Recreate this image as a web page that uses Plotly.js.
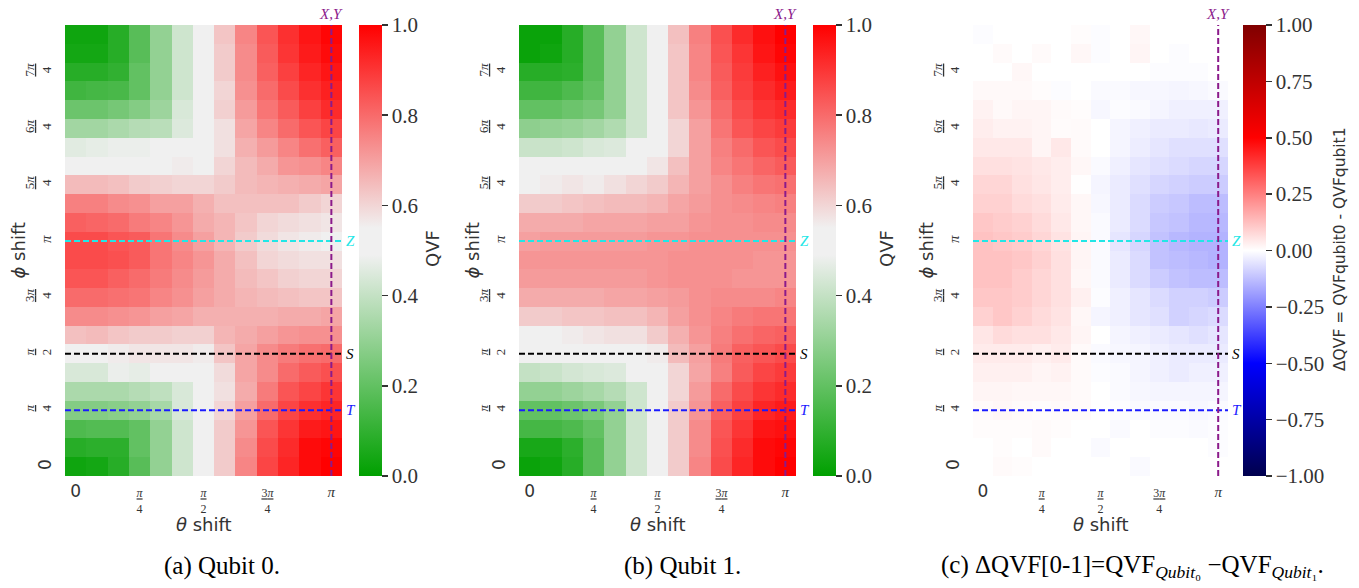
<!DOCTYPE html>
<html>
<head>
<meta charset="utf-8">
<script src="https://cdn.plot.ly/plotly-3.0.1.min.js"></script>
<style>html,body{margin:0;padding:0;background:#fff;}#chart{width:1359px;height:588px;}</style>
</head>
<body>
<div id="chart"></div>
<script>
// ---------------- DATA ----------------
// theta shift (x) and phi shift (y), in units of pi
const thetaPi = [0, 1/12, 2/12, 3/12, 4/12, 5/12, 6/12, 7/12, 8/12, 9/12, 10/12, 11/12, 12/12];
const phiPi = [0, 1/12, 2/12, 3/12, 4/12, 5/12, 6/12, 7/12, 8/12, 9/12, 10/12, 11/12,
               12/12, 13/12, 14/12, 15/12, 16/12, 17/12, 18/12, 19/12, 20/12, 21/12, 22/12, 23/12];

const xTickVals = [0, 0.25, 0.5, 0.75, 1];
const xTickText = ['0', 'π/4', 'π/2', '3π/4', 'π'];
const yTickVals = [0, 0.25, 0.5, 0.75, 1, 1.25, 1.5, 1.75];
const yTickText = ['0', 'π/4', 'π/2', '3π/4', 'π', '5π/4', '6π/4', '7π/4'];

// gate reference lines
const gateNames = ['Z', 'S', 'T'];
const gatePhi = [1, 0.5, 0.25];
const xyName = 'X,Y';
const xyTheta = 1;

// QVF for qubit 0, rows = phi (bottom -> top), columns = theta
const qvfQubit0 = [
  [0.03,0.04,0.08,0.18,0.30,0.42,0.52,0.62,0.75,0.87,0.93,0.98,1.00],
  [0.08,0.09,0.09,0.20,0.30,0.42,0.52,0.62,0.74,0.86,0.92,0.98,0.99],
  [0.16,0.17,0.17,0.20,0.30,0.42,0.52,0.62,0.72,0.84,0.90,0.95,0.96],
  [0.27,0.27,0.28,0.30,0.34,0.44,0.52,0.60,0.70,0.80,0.87,0.91,0.93],
  [0.35,0.35,0.35,0.37,0.39,0.44,0.52,0.58,0.68,0.77,0.84,0.87,0.90],
  [0.44,0.44,0.48,0.47,0.52,0.52,0.52,0.59,0.69,0.74,0.80,0.83,0.85],
  [0.55,0.55,0.56,0.57,0.57,0.57,0.56,0.63,0.69,0.74,0.77,0.79,0.80],
  [0.64,0.65,0.63,0.62,0.62,0.61,0.61,0.66,0.68,0.70,0.72,0.73,0.73],
  [0.74,0.74,0.73,0.72,0.70,0.69,0.67,0.67,0.67,0.67,0.68,0.68,0.69],
  [0.80,0.80,0.79,0.78,0.75,0.73,0.70,0.68,0.66,0.65,0.64,0.63,0.63],
  [0.84,0.84,0.82,0.80,0.77,0.74,0.71,0.68,0.65,0.63,0.61,0.60,0.60],
  [0.86,0.86,0.85,0.83,0.78,0.75,0.72,0.68,0.64,0.60,0.59,0.58,0.58],
  [0.86,0.86,0.84,0.83,0.78,0.74,0.70,0.66,0.62,0.59,0.57,0.56,0.55],
  [0.82,0.81,0.80,0.77,0.75,0.72,0.68,0.66,0.63,0.60,0.59,0.58,0.57],
  [0.76,0.76,0.74,0.73,0.70,0.70,0.67,0.64,0.64,0.64,0.64,0.62,0.60],
  [0.65,0.65,0.64,0.62,0.61,0.60,0.60,0.62,0.65,0.66,0.67,0.68,0.69],
  [0.52,0.52,0.54,0.54,0.54,0.56,0.55,0.60,0.65,0.68,0.72,0.73,0.75],
  [0.46,0.47,0.48,0.48,0.52,0.52,0.52,0.58,0.67,0.71,0.75,0.79,0.82],
  [0.33,0.33,0.35,0.37,0.38,0.45,0.52,0.58,0.69,0.75,0.80,0.84,0.87],
  [0.22,0.22,0.24,0.27,0.32,0.44,0.52,0.61,0.71,0.78,0.83,0.88,0.92],
  [0.13,0.14,0.15,0.20,0.30,0.42,0.52,0.60,0.73,0.80,0.86,0.91,0.94],
  [0.08,0.08,0.10,0.20,0.30,0.42,0.52,0.62,0.74,0.82,0.88,0.93,0.96],
  [0.04,0.04,0.08,0.18,0.30,0.42,0.52,0.62,0.74,0.83,0.90,0.95,0.98],
  [0.03,0.03,0.08,0.18,0.30,0.42,0.52,0.63,0.75,0.84,0.91,0.96,0.99]
];

// QVF for qubit 1
const qvfQubit1 = [
  [0.02,0.03,0.08,0.18,0.30,0.42,0.52,0.62,0.75,0.86,0.93,0.98,1.00],
  [0.05,0.05,0.09,0.18,0.30,0.42,0.52,0.62,0.74,0.85,0.92,0.98,0.99],
  [0.14,0.14,0.16,0.20,0.30,0.42,0.52,0.62,0.74,0.84,0.90,0.96,0.97],
  [0.20,0.20,0.22,0.25,0.30,0.42,0.52,0.62,0.72,0.82,0.88,0.93,0.95],
  [0.30,0.30,0.32,0.34,0.37,0.42,0.52,0.60,0.71,0.80,0.86,0.90,0.92],
  [0.40,0.41,0.43,0.44,0.45,0.52,0.52,0.60,0.69,0.76,0.83,0.87,0.89],
  [0.52,0.52,0.52,0.52,0.52,0.52,0.56,0.65,0.70,0.77,0.82,0.84,0.86],
  [0.55,0.55,0.56,0.57,0.58,0.58,0.62,0.67,0.72,0.76,0.79,0.81,0.82],
  [0.62,0.62,0.63,0.63,0.64,0.64,0.66,0.70,0.73,0.75,0.77,0.78,0.78],
  [0.68,0.68,0.68,0.68,0.69,0.69,0.70,0.71,0.73,0.74,0.74,0.74,0.75],
  [0.71,0.71,0.71,0.71,0.71,0.71,0.72,0.73,0.73,0.73,0.72,0.72,0.72],
  [0.72,0.72,0.72,0.72,0.72,0.72,0.72,0.73,0.73,0.73,0.73,0.72,0.72],
  [0.70,0.71,0.71,0.71,0.71,0.71,0.72,0.72,0.73,0.73,0.73,0.73,0.73],
  [0.68,0.68,0.68,0.69,0.69,0.69,0.70,0.70,0.72,0.73,0.73,0.74,0.74],
  [0.62,0.62,0.63,0.64,0.65,0.65,0.66,0.69,0.71,0.73,0.74,0.75,0.76],
  [0.55,0.56,0.57,0.56,0.58,0.60,0.62,0.66,0.70,0.73,0.76,0.78,0.79],
  [0.52,0.52,0.52,0.52,0.52,0.52,0.57,0.64,0.70,0.75,0.78,0.81,0.83],
  [0.41,0.41,0.42,0.44,0.45,0.52,0.52,0.60,0.70,0.76,0.80,0.84,0.86],
  [0.29,0.30,0.31,0.33,0.36,0.42,0.52,0.60,0.70,0.78,0.84,0.87,0.89],
  [0.20,0.20,0.22,0.24,0.30,0.42,0.52,0.63,0.72,0.80,0.86,0.90,0.92],
  [0.13,0.13,0.16,0.20,0.30,0.42,0.52,0.63,0.74,0.82,0.88,0.92,0.95],
  [0.08,0.08,0.09,0.18,0.30,0.42,0.52,0.63,0.75,0.83,0.89,0.94,0.97],
  [0.02,0.03,0.08,0.18,0.30,0.42,0.52,0.63,0.75,0.84,0.90,0.96,0.99],
  [0.02,0.02,0.08,0.18,0.30,0.42,0.52,0.64,0.76,0.85,0.92,0.97,1.00]
];

// Delta QVF = QVF qubit0 - QVF qubit1
const deltaQvf = [
  [0.000,0.010,0.005,0.000,0.000,0.000,0.000,0.000,-0.010,0.000,0.000,0.000,0.000],
  [0.000,0.005,0.000,0.010,0.000,0.000,-0.010,0.000,0.000,0.000,0.000,0.000,-0.005],
  [0.005,0.005,0.005,0.010,0.005,0.000,0.000,-0.010,0.000,-0.005,-0.005,-0.010,-0.005],
  [0.010,0.015,0.010,0.005,0.010,0.010,0.000,-0.005,-0.010,-0.010,-0.010,-0.015,-0.010],
  [0.020,0.020,0.015,0.015,0.015,0.010,0.000,-0.010,-0.015,-0.020,-0.020,-0.020,-0.020],
  [0.030,0.030,0.030,0.020,0.025,0.010,-0.005,-0.010,-0.020,-0.030,-0.040,-0.030,-0.030],
  [0.040,0.040,0.040,0.030,0.040,0.010,-0.010,-0.015,-0.020,-0.030,-0.040,-0.040,-0.040],
  [0.050,0.070,0.060,0.060,0.045,0.020,0.000,-0.020,-0.030,-0.040,-0.050,-0.060,-0.050],
  [0.090,0.110,0.090,0.070,0.055,0.015,-0.020,-0.030,-0.050,-0.060,-0.090,-0.080,-0.070],
  [0.110,0.110,0.100,0.080,0.060,0.030,-0.005,-0.030,-0.050,-0.070,-0.090,-0.090,-0.100],
  [0.120,0.120,0.100,0.080,0.060,0.015,-0.010,-0.040,-0.070,-0.100,-0.120,-0.130,-0.130],
  [0.120,0.120,0.110,0.090,0.060,0.020,-0.010,-0.040,-0.070,-0.120,-0.130,-0.140,-0.150],
  [0.120,0.110,0.100,0.080,0.055,0.020,-0.010,-0.050,-0.080,-0.120,-0.140,-0.150,-0.150],
  [0.110,0.100,0.090,0.070,0.045,0.015,-0.010,-0.040,-0.070,-0.110,-0.120,-0.140,-0.140],
  [0.090,0.090,0.070,0.060,0.040,0.015,-0.015,-0.040,-0.070,-0.100,-0.110,-0.130,-0.130],
  [0.080,0.080,0.060,0.050,0.035,0.002,-0.020,-0.040,-0.060,-0.080,-0.090,-0.100,-0.100],
  [0.060,0.060,0.055,0.045,0.035,0.015,-0.010,-0.030,-0.050,-0.060,-0.070,-0.080,-0.080],
  [0.045,0.045,0.045,0.020,0.045,0.010,0.000,-0.020,-0.035,-0.050,-0.060,-0.060,-0.060],
  [0.035,0.025,0.025,0.020,0.008,0.010,0.000,-0.020,-0.030,-0.040,-0.040,-0.045,-0.040],
  [0.025,0.012,0.020,0.020,0.010,0.005,-0.015,-0.005,-0.010,-0.020,-0.030,-0.030,-0.030],
  [0.012,0.012,0.012,0.005,-0.005,0.000,-0.010,-0.010,-0.015,-0.015,-0.020,-0.015,-0.010],
  [0.000,0.000,0.015,0.000,0.000,0.000,0.000,0.000,0.000,-0.005,-0.005,-0.005,0.000],
  [0.000,0.010,0.000,0.010,0.000,0.015,-0.005,0.000,0.020,0.000,-0.005,0.000,0.000],
  [-0.005,0.000,0.000,0.000,0.000,0.005,-0.005,0.000,0.015,0.000,0.000,0.000,0.000]
];

const cbarTitles = ['QVF', 'QVF', 'ΔQVF = QVFqubit0 - QVFqubit1'];
const captions = ['(a) Qubit 0.', '(b) Qubit 1.',
  '(c) ΔQVF[0-1]=QVF<sub><i>Qubit</i>₀</sub> −QVF<sub><i>Qubit</i>₁</sub>.'];

// ---------------- STYLE / LAYOUT ----------------
const W = 1359, H = 588;
const fx = v => v / W;
const fy = v => 1 - v / H;
const TXT = '#333333';
const SERIF = 'Liberation Serif, DejaVu Serif, serif';
const SANS = 'DejaVu Sans, sans-serif';
const gateColors = ['#22e6e6', '#000000', '#1a1aff'];
const xyColor = '#8b1a8b';

const qvfScale = [[0, 'rgb(0,160,0)'], [0.49, 'rgb(240,240,240)'], [0.55, 'rgb(240,240,240)'], [1, 'rgb(255,0,0)']];
const seismic = [[0, 'rgb(0,0,77)'], [0.25, 'rgb(0,0,255)'], [0.5, 'rgb(255,255,255)'], [0.75, 'rgb(255,0,0)'], [1, 'rgb(128,0,0)']];

const panels = [
  {x0: 65, x1: 342, cb: 359, z: qvfQubit0, cs: qvfScale, zmin: 0, zmax: 1, ticks: [0,0.2,0.4,0.6,0.8,1], fmt: '.1f', tx: 432, tsize: 18},
  {x0: 519, x1: 796, cb: 813, z: qvfQubit1, cs: qvfScale, zmin: 0, zmax: 1, ticks: [0,0.2,0.4,0.6,0.8,1], fmt: '.1f', tx: 886, tsize: 18},
  {x0: 973, x1: 1228, cb: 1243, z: deltaQvf, cs: seismic, zmin: -1, zmax: 1, ticks: [-1,-0.75,-0.5,-0.25,0,0.25,0.5,0.75,1], fmt: '.2f', tx: 1340, tsize: 15.5}
];
const captionX = [222, 682, 1132];
const plotTop = 25, plotBottom = 476;

function fracLabel(t) {
  if (t === '0') return '<span style="font-family:DejaVu Sans;font-size:17px">0</span>';
  if (t === 'π') return '<span style="font-size:15px"><i>π</i></span>';
  const parts = t.split('/');
  return '<u>' + parts[0].replace('π', '<i>π</i>') + '</u><br>' + parts[1];
}

const data = [];
const layout = {
  width: W, height: H,
  margin: {l: 0, r: 0, t: 0, b: 0},
  paper_bgcolor: '#fff', plot_bgcolor: '#fff',
  showlegend: false,
  shapes: [], annotations: []
};

const xr = [thetaPi[0] - 1/24, thetaPi[thetaPi.length - 1] + 1/24];
const yr = [phiPi[0] - 1/24, phiPi[phiPi.length - 1] + 1/24];

panels.forEach((p, i) => {
  const sfx = i === 0 ? '' : String(i + 1);
  const xa = 'x' + sfx, ya = 'y' + sfx;
  data.push({
    type: 'heatmap', x: thetaPi, y: phiPi, z: p.z,
    xaxis: xa, yaxis: ya,
    colorscale: p.cs, zmin: p.zmin, zmax: p.zmax,
    hoverinfo: 'skip',
    colorbar: {
      x: fx(p.cb), xanchor: 'left', y: fy(plotTop), yanchor: 'top',
      len: (plotBottom - plotTop) / H, lenmode: 'fraction',
      thickness: 23, thicknessmode: 'pixels', xpad: 0, ypad: 0,
      outlinewidth: 0,
      ticks: 'outside', ticklen: 6, tickwidth: 1.5, tickcolor: TXT,
      tickvals: p.ticks, tickformat: p.fmt,
      tickfont: {family: SERIF, size: 21, color: TXT}
    }
  });
  layout['xaxis' + sfx] = {
    domain: [fx(p.x0), fx(p.x1)], anchor: ya, range: xr,
    showgrid: false, zeroline: false, showline: false,
    ticks: 'outside', ticklen: 6, tickcolor: 'rgba(0,0,0,0)',
    tickmode: 'array', tickvals: xTickVals, ticktext: xTickText.map(fracLabel),
    tickfont: {family: SERIF, size: 12, color: TXT}, tickangle: 0
  };
  layout['yaxis' + sfx] = {
    domain: [fy(plotBottom), fy(plotTop)], anchor: xa, range: yr,
    showgrid: false, zeroline: false, showline: false,
    ticks: 'outside', ticklen: 8, tickcolor: 'rgba(0,0,0,0)',
    tickmode: 'array', tickvals: yTickVals, ticktext: yTickText.map(fracLabel),
    tickfont: {family: SERIF, size: 13, color: TXT}, tickangle: -90
  };
  gatePhi.forEach((ph, g) => {
    layout.shapes.push({type: 'line', xref: xa, yref: ya, x0: xr[0], x1: xr[1], y0: ph, y1: ph,
      line: {color: gateColors[g], width: 2, dash: '6px,3px'}});
    layout.annotations.push({xref: xa, yref: ya, x: xr[1], y: ph, text: '<i>' + gateNames[g] + '</i>',
      showarrow: false, xanchor: 'left', yanchor: 'middle', xshift: 2,
      font: {family: SERIF, size: 15, color: gateColors[g]}});
  });
  layout.shapes.push({type: 'line', xref: xa, yref: ya, x0: xyTheta, x1: xyTheta, y0: yr[0], y1: yr[1],
    line: {color: xyColor, width: 2, dash: '6px,3px'}});
  layout.annotations.push({xref: xa, yref: ya, x: xyTheta, y: yr[1], text: '<i>' + xyName + '</i>',
    showarrow: false, xanchor: 'center', yanchor: 'bottom', yshift: 1,
    font: {family: SERIF, size: 15, color: xyColor}});
  layout.annotations.push({xref: 'paper', yref: 'paper', x: fx((p.x0 + p.x1) / 2), y: fy(524),
    text: '<i>θ</i> shift', showarrow: false, xanchor: 'center', yanchor: 'middle',
    font: {family: SANS, size: 18, color: TXT}});
  layout.annotations.push({xref: 'paper', yref: 'paper', x: fx(p.x0 - 47), y: fy((plotTop + plotBottom) / 2),
    text: '<i>ϕ</i> shift', showarrow: false, xanchor: 'center', yanchor: 'middle', textangle: -90,
    font: {family: SANS, size: 18, color: TXT}});
  layout.annotations.push({xref: 'paper', yref: 'paper', x: fx(p.tx), y: fy(249),
    text: cbarTitles[i], showarrow: false, xanchor: 'center', yanchor: 'middle', textangle: -90,
    font: {family: SANS, size: p.tsize, color: TXT}});
  layout.annotations.push({xref: 'paper', yref: 'paper', x: fx(captionX[i]), y: fy(566),
    text: captions[i], showarrow: false, xanchor: 'center', yanchor: 'middle',
    font: {family: SERIF, size: 25, color: '#000'}});
});

Plotly.newPlot('chart', data, layout, {displayModeBar: false, staticPlot: true});
</script>
</body>
</html>
